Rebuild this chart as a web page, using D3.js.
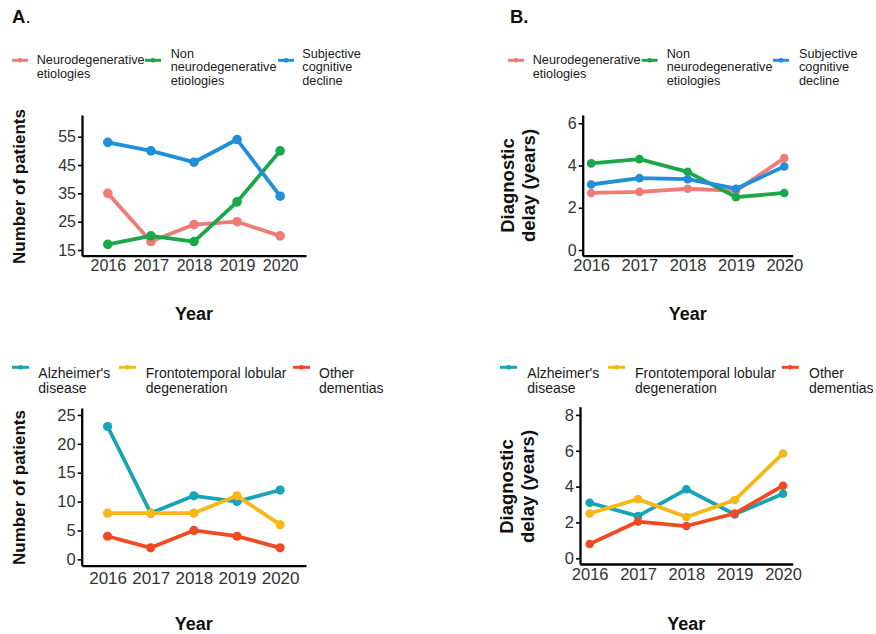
<!DOCTYPE html>
<html>
<head>
<meta charset="utf-8">
<script src="https://cdn.jsdelivr.net/npm/d3@7"></script>
<style>
  body { margin: 0; background: #fff; }
  svg text { font-family: "Liberation Sans", Arial, Helvetica, sans-serif; }
</style>
</head>
<body>
<svg id="fig" width="876" height="634"></svg>
<script>
// ---- Data -----------------------------------------------------------------
const years = ["2016", "2017", "2018", "2019", "2020"];

// Etiology groups (top row)
const groupNames = [
  ["Neurodegenerative", "etiologies"],
  ["Non", "neurodegenerative", "etiologies"],
  ["Subjective", "cognitive", "decline"]
];
const groupColors = ["#F07B76", "#19A74A", "#1F8FDA"];
const patientsNeuro    = [35, 18, 24, 25, 20];
const patientsNonNeuro = [17, 20, 18, 32, 50];
const patientsSCD      = [53, 50, 46, 54, 34];
const delayNeuro    = [2.7, 2.75, 2.9, 2.8, 4.35];
const delayNonNeuro = [4.1, 4.3, 3.7, 2.5, 2.7];
const delaySCD      = [3.1, 3.4, 3.35, 2.9, 3.95];

// Dementia subtypes (bottom row)
const dementiaNames = [
  ["Alzheimer's", "disease"],
  ["Frontotemporal lobular", "degeneration"],
  ["Other", "dementias"]
];
const dementiaColors = ["#17A4B4", "#F7B718", "#EE4B23"];
const patientsAD    = [23, 8, 11, 10, 12];
const patientsFTLD  = [8, 8, 8, 11, 6];
const patientsOther = [4, 2, 5, 4, 2];
const delayAD    = [3.1, 2.35, 3.85, 2.45, 3.6];
const delayFTLD  = [2.5, 3.3, 2.3, 3.25, 5.85];
const delayOther = [0.8, 2.05, 1.8, 2.5, 4.05];

// Tick labels
const ticksPatientsTop    = [15, 25, 35, 45, 55];
const ticksDelayTop       = [0, 2, 4, 6];
const ticksPatientsBottom = [0, 5, 10, 15, 20, 25];
const ticksDelayBottom    = [0, 2, 4, 6, 8];

// ---- Drawing --------------------------------------------------------------
const svg = d3.select("#fig");

function drawPanel(cfg) {
  const g = svg.append("g");
  const x = d3.scalePoint().domain(years).range([cfg.left, cfg.right]).padding(cfg.pad);
  const y = d3.scaleLinear().domain(cfg.yDomain).range([cfg.bottom, cfg.top]);

  // y axis
  const ya = g.append("g")
    .attr("transform", `translate(${cfg.left},0)`)
    .call(d3.axisLeft(y).tickValues(cfg.ticks).tickFormat(d3.format("d"))
      .tickSize(4).tickSizeOuter(0).tickPadding(2));
  ya.select(".domain").attr("stroke", "#000").attr("stroke-width", 2.3);
  ya.selectAll(".tick line").attr("stroke", "#000").attr("stroke-width", 1.6);
  ya.selectAll(".tick text").attr("font-size", cfg.tickFont).attr("fill", "#333");

  // x axis
  const xa = g.append("g")
    .attr("transform", `translate(0,${cfg.bottom})`)
    .call(d3.axisBottom(x).tickSize(0).tickSizeOuter(0).tickPadding(cfg.xPad));
  xa.select(".domain").attr("stroke", "#000").attr("stroke-width", 2.3);
  xa.selectAll(".tick text").attr("font-size", cfg.xTickFont).attr("fill", "#333");

  // series
  const line = d3.line().x((d, i) => x(years[i])).y(d => y(d));
  cfg.series.forEach((vals, k) => {
    g.append("path")
      .attr("d", line(vals))
      .attr("fill", "none")
      .attr("stroke", cfg.colors[k])
      .attr("stroke-width", cfg.lw)
      .attr("stroke-linejoin", "round");
    g.selectAll(null).data(vals).enter().append("circle")
      .attr("cx", (d, i) => x(years[i]))
      .attr("cy", d => y(d))
      .attr("r", cfg.r)
      .attr("fill", cfg.colors[k]);
  });

  // axis titles
  const yt = g.append("text")
    .attr("transform", `translate(${cfg.yTitleX},${cfg.yTitleY}) rotate(-90)`)
    .attr("text-anchor", "middle")
    .attr("font-weight", "bold")
    .attr("font-size", cfg.yTitleFont)
    .attr("fill", "#111");
  cfg.yTitle.forEach((t, i) => {
    yt.append("tspan").attr("x", 0).attr("y", i * cfg.yTitleGap).text(t);
  });
  g.append("text")
    .attr("x", (cfg.left + cfg.right) / 2)
    .attr("y", cfg.xTitleY)
    .attr("text-anchor", "middle")
    .attr("font-weight", "bold")
    .attr("font-size", 18)
    .attr("fill", "#111")
    .text("Year");

  // legend
  cfg.names.forEach((lines, k) => {
    const kx = cfg.legKeys[k];
    g.append("line")
      .attr("x1", kx).attr("x2", kx + cfg.keyW)
      .attr("y1", cfg.legY).attr("y2", cfg.legY)
      .attr("stroke", cfg.colors[k]).attr("stroke-width", 3);
    g.append("circle")
      .attr("cx", kx + cfg.keyW / 2).attr("cy", cfg.legY).attr("r", 2.4)
      .attr("fill", cfg.colors[k]);
    const n = lines.length;
    const first = cfg.legCenter - (n - 1) / 2 * cfg.legGap + cfg.legOff;
    const t = g.append("text")
      .attr("font-size", cfg.legFont)
      .attr("fill", "#1a1a1a");
    lines.forEach((s, i) => {
      t.append("tspan").attr("x", cfg.legText[k]).attr("y", first + i * cfg.legGap).text(s);
    });
  });
}

// Panel letters
const letterA = svg.append("text").attr("x", 12).attr("y", 23).attr("font-size", 18.5).attr("fill", "#111");
letterA.append("tspan").attr("font-weight", "bold").text("A");
letterA.append("tspan").text(".");
svg.append("text").attr("x", 510).attr("y", 23).attr("font-size", 18.5)
  .attr("font-weight", "bold").attr("fill", "#111").text("B.");

const topLegend = { legY: 60.3, legCenter: 67.3, legGap: 13.5, legOff: 3.9, legFont: 12.7, keyW: 16 };
const botLegend = { legY: 367.3, legCenter: 380.8, legGap: 15, legOff: 4.3, legFont: 14, keyW: 17 };

// A top: number of patients by etiology
drawPanel(Object.assign({}, topLegend, {
  left: 82, right: 306, pad: 0.6, top: 115, bottom: 255.7,
  yDomain: [13, 62.66], ticks: ticksPatientsTop, tickFont: 16, xTickFont: 16, xPad: 4,
  series: [patientsNeuro, patientsNonNeuro, patientsSCD], colors: groupColors,
  lw: 3.8, r: 4.8,
  yTitle: ["Number of patients"], yTitleX: 25, yTitleY: 186.5, yTitleFont: 17, yTitleGap: 20,
  xTitleY: 320,
  names: groupNames, legKeys: [12, 145, 278], legText: [36.7, 170.7, 302.3]
}));

// B top: diagnostic delay by etiology
drawPanel(Object.assign({}, topLegend, {
  left: 582.7, right: 792.7, pad: 0.175, top: 115, bottom: 255.7,
  yDomain: [-0.27, 6.39], ticks: ticksDelayTop, tickFont: 16, xTickFont: 16.5, xPad: 4,
  series: [delayNeuro, delayNonNeuro, delaySCD], colors: groupColors,
  lw: 3.8, r: 4.3,
  yTitle: ["Diagnostic", "delay (years)"], yTitleX: 514, yTitleY: 185.5, yTitleFont: 18.5, yTitleGap: 20.5,
  xTitleY: 320,
  names: groupNames, legKeys: [508, 641.7, 773], legText: [532.7, 666.7, 799]
}));

// A bottom: number of patients by dementia subtype
drawPanel(Object.assign({}, botLegend, {
  left: 81.7, right: 306, pad: 0.6, top: 408, bottom: 565.7,
  yDomain: [-1.1, 26.2], ticks: ticksPatientsBottom, tickFont: 16.5, xTickFont: 17, xPad: 6,
  series: [patientsAD, patientsFTLD, patientsOther], colors: dementiaColors,
  lw: 3.8, r: 4.6,
  yTitle: ["Number of patients"], yTitleX: 25, yTitleY: 487.5, yTitleFont: 17, yTitleGap: 20,
  xTitleY: 630,
  names: dementiaNames, legKeys: [12, 119, 293], legText: [38.3, 145.7, 319]
}));

// B bottom: diagnostic delay by dementia subtype
drawPanel(Object.assign({}, botLegend, {
  left: 580, right: 792.7, pad: 0.2, top: 406.7, bottom: 564,
  yDomain: [-0.32, 8.46], ticks: ticksDelayBottom, tickFont: 16.5, xTickFont: 16.5, xPad: 4,
  series: [delayAD, delayFTLD, delayOther], colors: dementiaColors,
  lw: 3.8, r: 4.3,
  yTitle: ["Diagnostic", "delay (years)"], yTitleX: 513, yTitleY: 486.5, yTitleFont: 18.5, yTitleGap: 21,
  xTitleY: 630,
  names: dementiaNames, legKeys: [500, 608, 781.7], legText: [527.3, 635, 809]
}));
</script>
</body>
</html>
